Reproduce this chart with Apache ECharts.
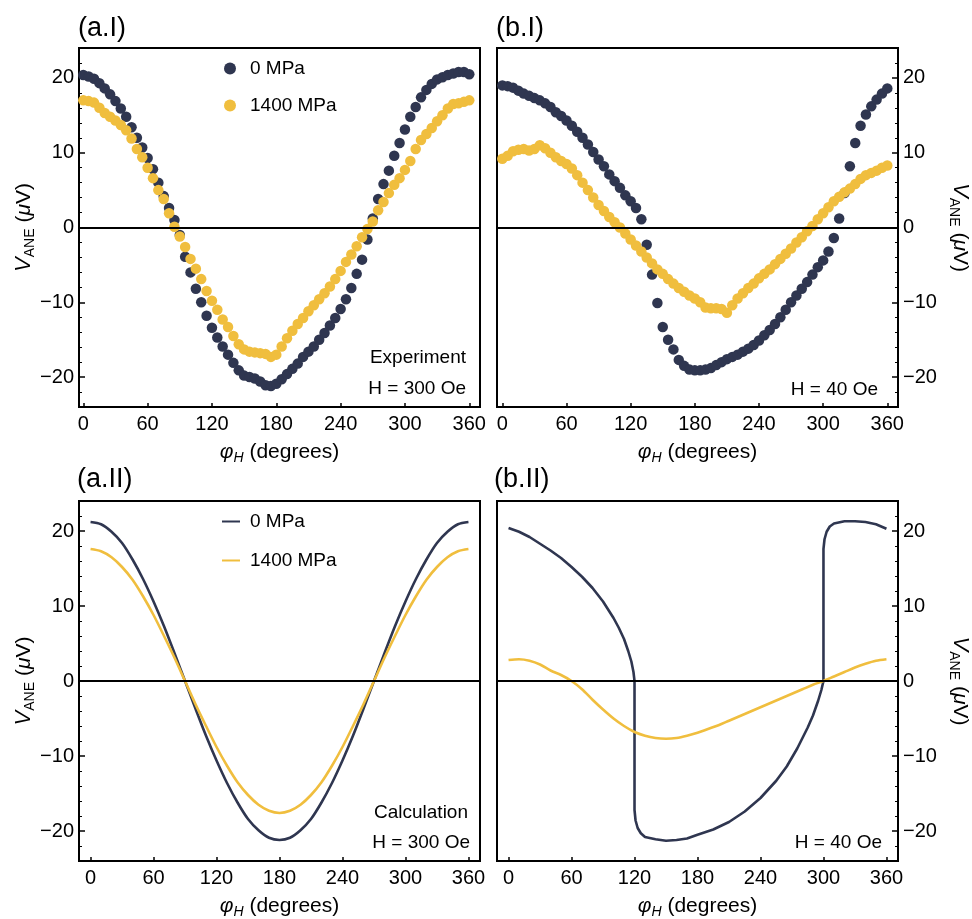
<!DOCTYPE html>
<html>
<head>
<meta charset="utf-8">
<script src="https://cdn.jsdelivr.net/npm/echarts@6/dist/echarts.min.js"></script>
<style>
  html, body { margin: 0; padding: 0; background: #fff; }
  #chart { width: 972px; height: 919px; }
</style>
</head>
<body>
<div id="chart"></div>
<script>
document.addEventListener("DOMContentLoaded", function() {
    const FONT = '"Liberation Sans", Arial, Helvetica, sans-serif';
    const DARK = '#2f3650';
    const GOLD = '#f0be3e';

    // measurement angles (degrees), 5 degree steps
    const angles5 = [
        0, 5, 10, 15, 20, 25, 30, 35, 40, 45, 50, 55,
        60, 65, 70, 75, 80, 85, 90, 95, 100, 105, 110, 115,
        120, 125, 130, 135, 140, 145, 150, 155, 160, 165, 170, 175,
        180, 185, 190, 195, 200, 205, 210, 215, 220, 225, 230, 235,
        240, 245, 250, 255, 260, 265, 270, 275, 280, 285, 290, 295,
        300, 305, 310, 315, 320, 325, 330, 335, 340, 345, 350, 355,
        360
    ];

    // (a.I) experiment, H = 300 Oe
    const expA0 = [
        20.4, 20.2, 19.9, 19.3, 18.6, 17.8, 16.9, 15.9, 14.8, 13.4, 12.0, 10.7,
        9.3, 7.8, 6.0, 4.2, 2.6, 1.0, -1.0, -3.9, -6.0, -8.2, -10.0, -11.8,
        -13.4, -14.7, -15.9, -17.0, -18.1, -19.1, -19.8, -20.0, -20.2, -20.6, -21.1, -21.2,
        -20.9, -20.3, -19.6, -18.9, -18.2, -17.3, -16.6, -15.9, -15.0, -14.1, -13.1, -12.1,
        -10.9, -9.6, -8.1, -6.2, -4.3, -1.6, 1.2, 3.8, 5.8, 7.6, 9.6, 11.3,
        13.1, 14.8, 16.1, 17.4, 18.4, 19.2, 19.8, 20.1, 20.4, 20.6, 20.8, 20.8,
        20.5
    ];
    const expA1400 = [
        17.0, 16.9, 16.7, 16.0, 15.3, 14.8, 14.3, 13.7, 13.0, 11.9, 10.5, 9.4,
        8.0, 6.6, 5.0, 3.8, 1.9, 0.1, -1.2, -2.6, -4.2, -5.5, -6.9, -8.5,
        -9.8, -11.0, -12.3, -13.3, -14.5, -15.6, -16.3, -16.6, -16.7, -16.8, -16.9, -17.3,
        -17.0, -15.9, -14.8, -13.8, -12.9, -12.1, -11.2, -10.4, -9.6, -8.8, -7.9, -6.9,
        -5.8, -4.6, -3.6, -2.5, -1.3, -0.2, 0.8, 2.3, 3.4, 4.6, 5.7, 6.6,
        7.7, 8.9, 10.5, 11.7, 12.5, 13.3, 14.2, 15.0, 15.9, 16.5, 16.6, 16.8,
        17.0
    ];

    // (b.I) experiment, H = 40 Oe
    const expB0 = [
        19.0, 18.9, 18.7, 18.3, 17.9, 17.6, 17.3, 17.0, 16.6, 16.1, 15.4, 14.9,
        14.3, 13.6, 12.8, 12.0, 11.1, 10.1, 9.1, 8.2, 7.1, 6.2, 5.3, 4.3,
        3.5, 2.6, 1.1, -2.3, -6.3, -10.1, -13.3, -15.0, -16.3, -17.7, -18.5, -19.0,
        -19.1, -19.1, -19.0, -18.8, -18.4, -18.0, -17.6, -17.3, -17.0, -16.6, -16.2, -15.7,
        -15.1, -14.4, -13.7, -12.9, -12.0, -11.0, -10.0, -9.1, -8.2, -7.3, -6.3, -5.3,
        -4.4, -3.2, -1.4, 1.2, 4.6, 8.2, 11.3, 13.6, 15.1, 16.2, 17.1, 17.9,
        18.6
    ];
    const expB1400 = [
        9.2, 9.6, 10.2, 10.4, 10.5, 10.3, 10.5, 11.0, 10.6, 10.0, 9.4, 8.9,
        8.5, 7.9, 7.0, 6.0, 5.0, 4.0, 3.0, 2.2, 1.4, 0.7, 0.0, -0.8,
        -1.6, -2.4, -3.2, -4.0, -4.8, -5.6, -6.2, -6.9, -7.5, -8.1, -8.6, -9.1,
        -9.5, -10.0, -10.7, -10.8, -10.8, -10.9, -11.4, -10.4, -9.5, -8.8, -8.1, -7.5,
        -6.8, -6.2, -5.6, -4.9, -4.2, -3.5, -2.8, -2.0, -1.3, -0.5, 0.2, 1.1,
        1.9, 2.7, 3.5, 4.1, 4.7, 5.2, 5.8, 6.5, 7.0, 7.3, 7.6, 8.0,
        8.3
    ];

    // calculation angles, 10 degree steps
    const angles10 = [
        0, 10, 20, 30, 40, 50, 60, 70, 80, 90, 100, 110,
        120, 130, 140, 150, 160, 170, 180, 190, 200, 210, 220, 230,
        240, 250, 260, 270, 280, 290, 300, 310, 320, 330, 340, 350,
        360
    ];

    // (a.II) calculation, H = 300 Oe
    const calcA0 = [
        21.2, 20.9, 19.9, 18.4, 16.2, 13.6, 10.6, 7.3, 3.7, 0.0, -3.7, -7.3,
        -10.6, -13.6, -16.2, -18.4, -19.9, -20.9, -21.2, -20.9, -19.9, -18.4, -16.2, -13.6,
        -10.6, -7.3, -3.7, 0.0, 3.7, 7.3, 10.6, 13.6, 16.2, 18.4, 19.9, 20.9,
        21.2
    ];
    const calcA1400 = [
        17.6, 17.3, 16.5, 15.2, 13.5, 11.3, 8.8, 6.0, 3.1, 0.0, -3.1, -6.0,
        -8.8, -11.3, -13.5, -15.2, -16.5, -17.3, -17.6, -17.3, -16.5, -15.2, -13.5, -11.3,
        -8.8, -6.0, -3.1, 0.0, 3.1, 6.0, 8.8, 11.3, 13.5, 15.2, 16.5, 17.3,
        17.6
    ];

    // (b.II) calculation, H = 40 Oe (0 MPa has switching jumps at 120 and 300)
    const calcB0Angles = [
        0, 10, 20, 30, 40, 50, 60, 70, 80, 90,
        100, 105, 110, 114, 117, 119, 120, 120,
        121, 123, 126, 130, 140, 150, 160, 170, 180,
        195, 210, 225, 240, 255, 265, 275, 285, 290, 295, 298, 300, 300,
        301, 303, 306, 310, 320, 330, 340, 350, 360
    ];
    const calcB0 = [
        20.4, 19.9, 19.2, 18.3, 17.4, 16.4, 15.2, 13.9, 12.4, 10.6,
        8.4, 7.1, 5.6, 4.0, 2.6, 1.2, 0.0, -17.2,
        -18.6, -19.6, -20.3, -20.8, -21.1, -21.3, -21.2, -21.0, -20.5,
        -19.8, -18.8, -17.4, -15.6, -13.3, -11.4, -9.0, -6.2, -4.6, -2.6, -1.2, 0.0, 17.6,
        18.9, 19.9, 20.6, 21.0, 21.3, 21.3, 21.2, 20.9, 20.3
    ];
    const calcB1400 = [
        2.8, 2.9, 2.7, 2.2, 1.4, 0.8, 0.0, -1.1, -2.5, -3.8, -5.0, -6.0,
        -6.8, -7.3, -7.6, -7.7, -7.6, -7.3, -6.9, -6.4, -5.9, -5.3, -4.7, -4.1,
        -3.5, -2.9, -2.3, -1.7, -1.1, -0.5, 0.0, 0.6, 1.2, 1.8, 2.3, 2.7,
        2.9
    ];

    const xTicks = [0, 60, 120, 180, 240, 300, 360];
    const yTicks = [-20, -10, 0, 10, 20];
    const yMinor = [-24, -22, -18, -16, -14, -12, -8, -6, -4, -2, 2, 4, 6, 8, 12, 14, 16, 18, 22, 24];

    const pairs = (xs, ys) => xs.map((x, i) => [x, ys[i]]);

    const grids = [
        { left: 79, top: 48, width: 401, height: 359 },
        { left: 497, top: 48, width: 401, height: 359 },
        { left: 79, top: 501, width: 401, height: 360 },
        { left: 497, top: 501, width: 401, height: 360 }
    ].map(g => Object.assign(g, {
        show: true, borderColor: '#000', borderWidth: 2, backgroundColor: 'transparent',
        containLabel: false, outerBoundsMode: 'none'
    }));

    const axisLineStyle = { color: '#000', width: 2 };
    const tickStyle = { color: '#000', width: 1.5 };

    function xAxisFor(g, min, max) {
        return {
            type: 'value', gridIndex: g, position: 'bottom', min: min, max: max,
            name: '{phi|φ}{sub|H} (degrees)',
            nameLocation: 'middle', nameGap: 32, nameMoveOverlap: false,
            nameTextStyle: {
                fontSize: 21, fontFamily: FONT, color: '#000', lineHeight: 26,
                rich: {
                    phi: { fontSize: 21, fontStyle: 'italic', fontFamily: FONT, color: '#000', lineHeight: 26 },
                    sub: { fontSize: 14, fontStyle: 'italic', fontFamily: FONT, color: '#000', lineHeight: 14, verticalAlign: 'bottom' }
                }
            },
            axisLine: { show: true, onZero: false, lineStyle: axisLineStyle },
            axisTick: { show: true, inside: true, length: 4, customValues: xTicks, lineStyle: tickStyle },
            axisLabel: { customValues: xTicks, fontSize: 20, fontFamily: FONT, color: '#000', margin: 7 },
            splitLine: { show: false }
        };
    }

    function yAxesFor(g, side) {
        const left = side === 'left';
        return [{
            type: 'value', gridIndex: g, position: side, min: -24, max: 24,
            name: '{v|V}{sub|ANE} ({mu|μ}V)',
            nameLocation: 'middle', nameGap: left ? 42 : 49, nameRotate: left ? 90 : -90, nameMoveOverlap: false,
            nameTextStyle: {
                fontSize: 21, fontFamily: FONT, color: '#000', lineHeight: 26,
                rich: {
                    v: { fontSize: 22, fontStyle: 'italic', fontFamily: FONT, color: '#000', lineHeight: 26 },
                    mu: { fontSize: 21, fontStyle: 'italic', fontFamily: FONT, color: '#000', lineHeight: 26 },
                    sub: { fontSize: 14, fontFamily: FONT, color: '#000', lineHeight: 14, verticalAlign: 'bottom' }
                }
            },
            axisLine: { show: true, onZero: false, lineStyle: axisLineStyle },
            axisTick: { show: true, inside: true, length: 6, customValues: yTicks, lineStyle: tickStyle },
            axisLabel: {
                customValues: yTicks, fontSize: 20, fontFamily: FONT, color: '#000', margin: 5,
                formatter: v => v < 0 ? '\u2212' + (-v) : String(v)
            },
            splitLine: { show: false }
        }, {
            // minor ticks only
            type: 'value', gridIndex: g, position: side, min: -24, max: 24,
            axisLine: { show: false, onZero: false },
            axisTick: { show: true, inside: true, length: 3, customValues: yMinor, lineStyle: { color: '#000', width: 1 } },
            axisLabel: { show: false },
            splitLine: { show: false }
        }];
    }

    const zeroLine = {
        silent: true, symbol: 'none', label: { show: false },
        lineStyle: { color: '#000', width: 2, type: 'solid' },
        data: [{ yAxis: 0 }]
    };

    function dots(name, color, g, data, withZero) {
        const s = {
            name: name, type: 'scatter', xAxisIndex: g, yAxisIndex: 2 * g,
            symbol: 'circle', symbolSize: 10.5, data: data,
            itemStyle: { color: color, opacity: 1 }
        };
        if (withZero) s.markLine = zeroLine;
        return s;
    }

    function curve(name, color, g, data, withZero) {
        const s = {
            name: name, type: 'line', xAxisIndex: g, yAxisIndex: 2 * g,
            showSymbol: false, smooth: 0.3, data: data,
            lineStyle: { color: color, width: 2.6 }, itemStyle: { color: color }
        };
        if (withZero) s.markLine = zeroLine;
        return s;
    }

    function label(text, x, y, size, align) {
        return {
            type: 'text', x: x, y: y, silent: true,
            style: {
                text: text, fontSize: size, fontFamily: FONT, fill: '#000',
                textAlign: align, align: align, textVerticalAlign: 'middle', verticalAlign: 'middle'
            }
        };
    }

    const b0Curve = curve('0 MPa', DARK, 3, pairs(calcB0Angles, calcB0), false);
    b0Curve.smooth = false;

    const option = {
        animation: false,
        backgroundColor: '#fff',
        textStyle: { fontFamily: FONT },
        grid: grids,
        xAxis: [
            xAxisFor(0, -4, 370),
            xAxisFor(1, -5, 370),
            xAxisFor(2, -11, 371),
            xAxisFor(3, -11, 371)
        ],
        yAxis: [].concat(
            yAxesFor(0, 'left'),
            yAxesFor(1, 'right'),
            yAxesFor(2, 'left'),
            yAxesFor(3, 'right')
        ),
        legend: [{
            data: ['0 MPa', '1400 MPa'], orient: 'vertical', left: 224, top: 59, padding: 0,
            icon: 'circle', itemWidth: 12, itemHeight: 12, itemGap: 18,
            textStyle: { fontSize: 19, fontFamily: FONT, color: '#000', padding: [0, 0, 0, 9] }, selectedMode: false
        }, {
            data: ['0 MPa', '1400 MPa'], orient: 'vertical', left: 222, top: 512, padding: 0,
            icon: 'rect', itemWidth: 18, itemHeight: 2, itemGap: 20,
            textStyle: { fontSize: 19, fontFamily: FONT, color: '#000', padding: [0, 0, 0, 5] }, selectedMode: false
        }],
        graphic: [
            label('(a.I)', 78, 29, 27, 'left'),
            label('(b.I)', 496, 29, 27, 'left'),
            label('(a.II)', 77, 480, 27, 'left'),
            label('(b.II)', 494, 480, 27, 'left'),
            label('Experiment', 466, 358, 19, 'right'),
            label('H = 300 Oe', 466, 389, 19, 'right'),
            label('H = 40 Oe', 878, 390, 19, 'right'),
            label('Calculation', 468, 813, 19, 'right'),
            label('H = 300 Oe', 470, 843, 19, 'right'),
            label('H = 40 Oe', 882, 843, 19, 'right')
        ],
        series: [
            dots('0 MPa', DARK, 0, pairs(angles5, expA0), false),
            dots('1400 MPa', GOLD, 0, pairs(angles5, expA1400), true),
            dots('0 MPa', DARK, 1, pairs(angles5, expB0), false),
            dots('1400 MPa', GOLD, 1, pairs(angles5, expB1400), true),
            curve('0 MPa', DARK, 2, pairs(angles10, calcA0), false),
            curve('1400 MPa', GOLD, 2, pairs(angles10, calcA1400), true),
            b0Curve,
            curve('1400 MPa', GOLD, 3, pairs(angles10, calcB1400), true)
        ]
    };

    const chart = echarts.init(document.getElementById('chart'));
    chart.setOption(option);
});
</script>
</body>
</html>
